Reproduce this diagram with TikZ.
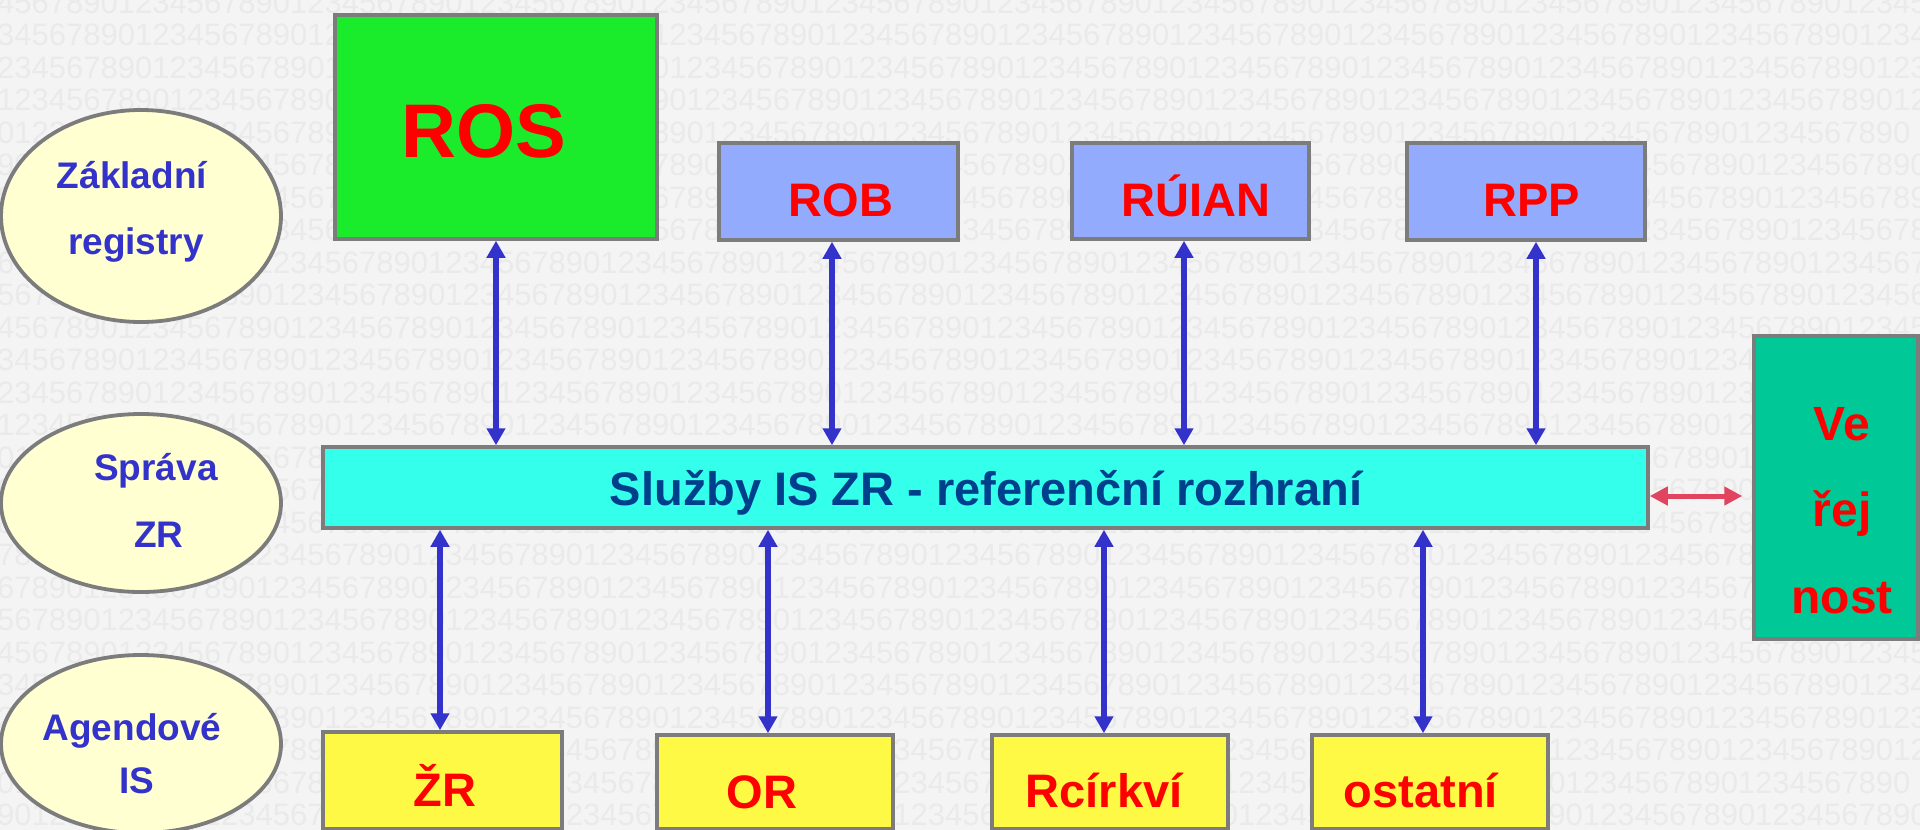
\documentclass[tikz,border=0pt]{standalone}
\usepackage{fontspec}
\setmainfont{Liberation Sans}
\usetikzlibrary{arrows.meta,shapes.geometric}
\definecolor{bgc}{HTML}{F4F4F4}
\definecolor{digc}{HTML}{EAEAEA}
\definecolor{bordc}{HTML}{7C7C7C}
\definecolor{rosc}{HTML}{1AEB2A}
\definecolor{regc}{HTML}{93ABFC}
\definecolor{svcc}{HTML}{33FFEA}
\definecolor{vejc}{HTML}{00C896}
\definecolor{agc}{HTML}{FDF944}
\definecolor{ellc}{HTML}{FFFFD2}
\definecolor{elc}{HTML}{3333CC}
\definecolor{svtc}{HTML}{003F8C}
\definecolor{lblred}{HTML}{FF0000}
\definecolor{arrc}{HTML}{3333CC}
\definecolor{rarrc}{HTML}{E0445E}
\newcommand\mydigits{123456789012345678901234567890123456789012345678901234567890123456789012345678901234567890123456789012345678901234567890}
\begin{document}
\begin{tikzpicture}[x=1pt,y=-1pt,
  box/.style={draw=bordc, line width=3.5pt, inner sep=0pt, rectangle},
  lbl/.style={text=lblred, font=\fontsize{47}{56}\selectfont\bfseries, anchor=base, inner sep=0pt},
  ell/.style={ellipse, draw=bordc, line width=3.8pt, fill=ellc, inner sep=0pt},
  elbl/.style={text=elc, font=\fontsize{37}{44}\selectfont\bfseries, anchor=base, inner sep=0pt},
  barrow/.style={draw=arrc, line width=6pt, {Triangle[width=18pt,length=17pt]}-{Triangle[width=18pt,length=17pt]}},
  rarrow/.style={draw=rarrc, line width=5pt, {Triangle[width=18pt,length=18pt]}-{Triangle[width=18pt,length=18pt]}},
  digits/.style={text=digc, font=\fontsize{31}{31}\selectfont, anchor=base west, inner sep=0pt}
]
\useasboundingbox (0,0) rectangle (1920,830);
\clip (0,0) rectangle (1920,830);
\fill[bgc] (0,0) rectangle (1920,830);
% background digit rows
\foreach \k in {0,...,25} {
  \pgfmathsetmacro\xo{-3-mod(103-\k,10)*17.24}
  \node[digits] (bg\k) at (\xo,{13+32.5*\k}) {\mydigits};
}
% ellipses
\node[ell, minimum width=280pt, minimum height=212pt] (e1) at (141,216) {};
\node[ell, minimum width=280pt, minimum height=178pt] (e2) at (141,503) {};
\node[ell, minimum width=280pt, minimum height=178pt] (e3) at (141,744) {};
\node[elbl] (e1a) at (132,188) {Základní};
\node[elbl] (e1b) at (136,254) {registry};
\node[elbl] (e2a) at (156,480) {Správa};
\node[elbl] (e2b) at (159,547) {ZR};
\node[elbl] (e3a) at (132,740) {Agendové};
\node[elbl] (e3b) at (137,793) {IS};
% registry boxes
\node[box, fill=rosc, minimum width=322pt, minimum height=224pt] (ros) at (496,127) {};
\node[box, fill=regc, minimum width=239pt, minimum height=97pt] (rob) at (838.5,191.5) {};
\node[box, fill=regc, minimum width=237pt, minimum height=96pt] (ruian) at (1190.5,191) {};
\node[box, fill=regc, minimum width=238pt, minimum height=97pt] (rpp) at (1526,191.5) {};
\node[lbl, font=\fontsize{76}{90}\selectfont\bfseries] (rost) at (484,157) {ROS};
\node[lbl] (robt) at (841,216) {ROB};
\node[lbl] (ruiant) at (1196,216) {RÚIAN};
\node[lbl] (rppt) at (1532,216) {RPP};
% services bar
\node[box, fill=svcc, minimum width=1325pt, minimum height=81pt] (svc) at (985.5,487.5) {};
\node[lbl, text=svtc] (svct) at (986,505) {Služby IS ZR - referenční rozhraní};
% verejnost
\node[box, fill=vejc, minimum width=164pt, minimum height=303pt] (vej) at (1836,487.5) {};
\node[lbl, font=\fontsize{48}{56}\selectfont\bfseries] (v1) at (1842,440) {Ve};
\node[lbl, font=\fontsize{48}{56}\selectfont\bfseries] (v2) at (1842,526) {řej};
\node[lbl, font=\fontsize{48}{56}\selectfont\bfseries] (v3) at (1842,613) {nost};
% agenda boxes
\node[box, fill=agc, minimum width=239pt, minimum height=97pt] (zr) at (442.5,780.5) {};
\node[box, fill=agc, minimum width=236pt, minimum height=94pt] (or) at (775,782) {};
\node[box, fill=agc, minimum width=236pt, minimum height=94pt] (rc) at (1110,782) {};
\node[box, fill=agc, minimum width=236pt, minimum height=94pt] (ost) at (1430,782) {};
\node[lbl] (zrt) at (445,806) {ŽR};
\node[lbl] (ort) at (762,808) {OR};
\node[lbl] (rct) at (1104,807) {Rcírkví};
\node[lbl] (ostt) at (1421,807) {ostatní};
% arrow anchor points
\coordinate (aros) at (ros.south);
\coordinate (arob) at ([xshift=-6.5pt]rob.south);
\coordinate (aruian) at ([xshift=-6.5pt]ruian.south);
\coordinate (arpp) at ([xshift=10pt]rpp.south);
\coordinate (azr) at ([xshift=-2.5pt]zr.north);
\coordinate (aor) at ([xshift=-7pt]or.north);
\coordinate (arc) at ([xshift=-6pt]rc.north);
\coordinate (aost) at ([xshift=-7pt]ost.north);
% connectors
\draw[barrow] (aros) -- (aros |- svc.north);
\draw[barrow] (arob) -- (arob |- svc.north);
\draw[barrow] (aruian) -- (aruian |- svc.north);
\draw[barrow] (arpp) -- (arpp |- svc.north);
\draw[barrow] (azr |- svc.south) -- (azr);
\draw[barrow] (aor |- svc.south) -- (aor);
\draw[barrow] (arc |- svc.south) -- (arc);
\draw[barrow] (aost |- svc.south) -- (aost);
\coordinate (rs) at ([yshift=-8.5pt]svc.east);
\draw[rarrow, shorten >=10pt] (rs) -- (rs -| vej.west);
\end{tikzpicture}
\end{document}
